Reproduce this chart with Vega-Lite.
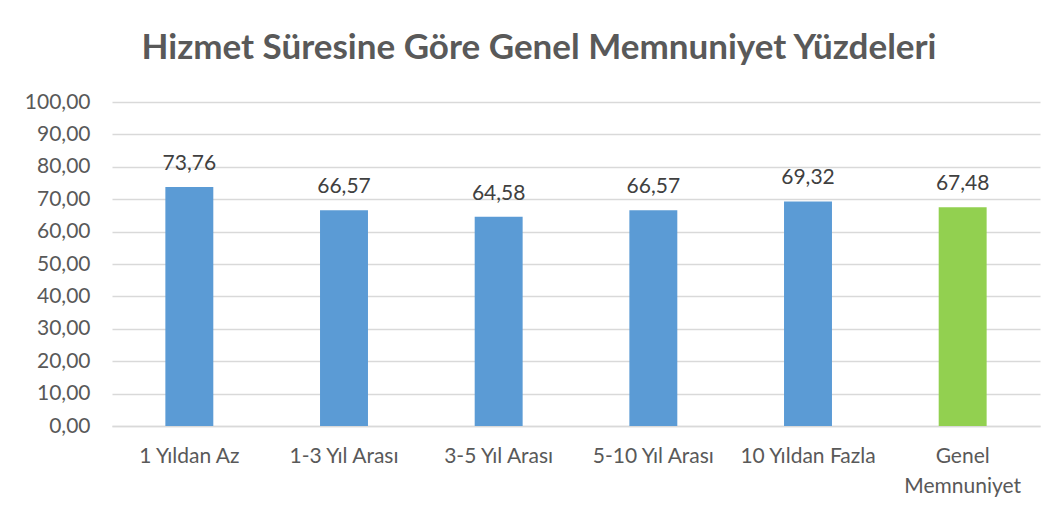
{
  "$schema": "https://vega.github.io/schema/vega-lite/v6.json",
  "width": 928,
  "height": 324,
  "autosize": {"type": "none"},
  "padding": {"left": 112, "top": 102, "right": 22, "bottom": 92},
  "background": "white",
  "config": {
    "locale": {"number": {"decimal": ",", "thousands": ".", "grouping": [3], "currency": ["", " TL"]}},
    "view": {"stroke": null},
    "font": "Lato"
  },
  "title": {
    "text": "Hizmet Süresine Göre Genel Memnuniyet Yüzdeleri",
    "font": "Lato",
    "fontSize": 35,
    "fontWeight": "bold",
    "color": "#595959",
    "anchor": "middle",
    "dx": -37,
    "offset": -3,
    "baseline": "alphabetic"
  },
  "data": {
    "values": [
      {"kategori": "1 Yıldan Az", "deger": 73.76, "tur": "grup"},
      {"kategori": "1-3 Yıl Arası", "deger": 66.57, "tur": "grup"},
      {"kategori": "3-5 Yıl Arası", "deger": 64.58, "tur": "grup"},
      {"kategori": "5-10 Yıl Arası", "deger": 66.57, "tur": "grup"},
      {"kategori": "10 Yıldan Fazla", "deger": 69.32, "tur": "grup"},
      {"kategori": "Genel Memnuniyet", "deger": 67.48, "tur": "genel"}
    ]
  },
  "encoding": {
    "x": {
      "field": "kategori",
      "type": "nominal",
      "sort": null,
      "scale": {"paddingInner": 0.69, "paddingOuter": 0.345},
      "axis": {
        "title": null,
        "labelAngle": 0,
        "labelFont": "Lato",
        "labelFontSize": 21,
        "labelColor": "#595959",
        "labelPadding": 19,
        "labelLineHeight": 30,
        "ticks": false,
        "domainColor": "#d9d9d9",
        "domainWidth": 1.5,
        "labelExpr": "datum.label == 'Genel Memnuniyet' ? ['Genel', 'Memnuniyet'] : datum.label"
      }
    },
    "y": {
      "field": "deger",
      "type": "quantitative",
      "scale": {"domain": [0, 100], "nice": false},
      "axis": {
        "title": null,
        "values": [0, 10, 20, 30, 40, 50, 60, 70, 80, 90, 100],
        "format": ".2f",
        "labelFont": "Lato",
        "labelFontSize": 21,
        "labelColor": "#595959",
        "labelPadding": 22,
        "ticks": false,
        "domain": false,
        "gridColor": "#d9d9d9",
        "gridWidth": 1.5
      }
    }
  },
  "layer": [
    {
      "mark": {"type": "bar"},
      "encoding": {
        "color": {
          "field": "tur",
          "type": "nominal",
          "scale": {"domain": ["grup", "genel"], "range": ["#5B9BD5", "#92D050"]},
          "legend": null
        }
      }
    },
    {
      "mark": {"type": "text", "dy": -17, "baseline": "alphabetic", "font": "Lato", "fontSize": 21, "color": "#404040"},
      "encoding": {
        "text": {"field": "deger", "type": "quantitative", "format": ".2f"}
      }
    }
  ]
}
